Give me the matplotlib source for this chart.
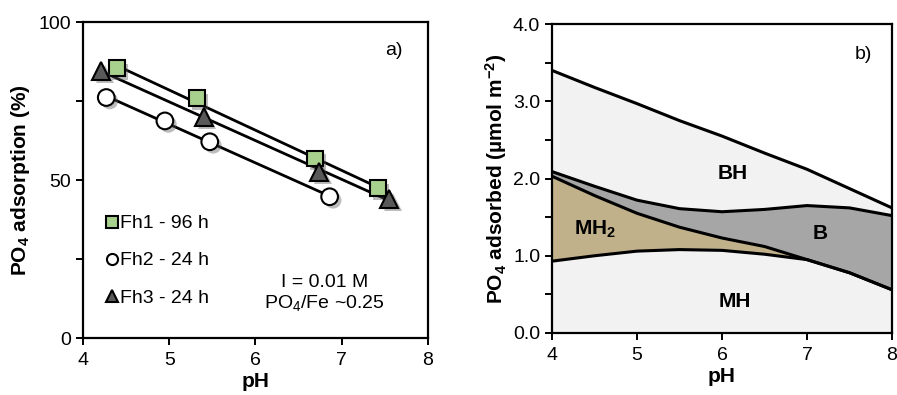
import numpy as np
import matplotlib.pyplot as plt
import matplotlib.patheffects as pe
from matplotlib.lines import Line2D
from matplotlib.ticker import MultipleLocator

plt.rcParams['font.family'] = ['Liberation Sans', 'DejaVu Sans']
plt.rcParams['mathtext.fontset'] = 'custom'
plt.rcParams['mathtext.rm'] = 'Liberation Sans'
plt.rcParams['mathtext.bf'] = 'Liberation Sans:bold'
plt.rcParams['mathtext.default'] = 'rm'

# a) PO4 adsorption edges
fh1_ph = [4.39, 5.32, 6.69, 7.42]
fh1_ads = [85.3, 75.8, 56.8, 47.4]
fh2_ph = [4.27, 4.95, 5.47, 6.86]
fh2_ads = [76.1, 68.7, 62.1, 44.7]
fh3_ph = [4.21, 5.40, 6.74, 7.55]
fh3_ads = [84.5, 70.0, 52.6, 44.0]

# b) surface speciation boundaries
ph_grid = [4.0, 4.5, 5.0, 5.5, 6.0, 6.5, 7.0, 7.5, 8.0]
total_top = [3.40, 3.18, 2.97, 2.75, 2.55, 2.33, 2.12, 1.87, 1.62]
b_upper = [2.09, 1.90, 1.72, 1.61, 1.57, 1.60, 1.65, 1.62, 1.52]
mh2_upper = [2.03, 1.78, 1.55, 1.37, 1.23, 1.12, 0.95, 0.78, 0.56]
mh_upper = [0.93, 1.00, 1.06, 1.08, 1.07, 1.02, 0.95, 0.78, 0.56]

fig = plt.figure(figsize=(8.97, 3.95), dpi=100)
ax1 = fig.add_axes([0.0925, 0.1443, 0.3846, 0.80])
ax2 = fig.add_axes([0.6154, 0.157, 0.379, 0.782])

shadow = [pe.SimplePatchShadow(offset=(2.5, -2.5), shadow_rgbFace='0.35', alpha=0.4), pe.Normal()]

series = [
    (fh1_ph, fh1_ads, 's', '#a9d18e', 11.5, 'Fh1 - 96 h'),
    (fh2_ph, fh2_ads, 'o', 'white', 12, 'Fh2 - 24 h'),
    (fh3_ph, fh3_ads, '^', '#595959', 13, 'Fh3 - 24 h'),
]
handles = []
for ph, ads, mk, fc, ms, lab in series:
    ph = np.array(ph)
    k, b = np.polyfit(ph, ads, 1)
    xs = np.array([ph.min(), ph.max()])
    ax1.plot(xs, k * xs + b, color='black', lw=2, zorder=2)
for ph, ads, mk, fc, ms, lab in series:
    ax1.plot(ph, ads, ls='none', marker=mk, ms=ms, mfc=fc, mec='black', mew=1.5,
             zorder=3, path_effects=shadow)
    handles.append(Line2D([], [], ls='none', marker=mk, ms=8, mfc=fc, mec='black',
                          mew=1.5, label=lab))

ax1.legend(handles=handles, loc='lower left', bbox_to_anchor=(0.017, 0.075), frameon=False,
           fontsize=14, handletextpad=-0.4, labelspacing=1.0, handlelength=1.6,
           borderaxespad=0)

ax1.set_xlim(4, 8)
ax1.set_ylim(0, 100)
ax1.xaxis.set_major_locator(MultipleLocator(1))
ax1.yaxis.set_major_locator(MultipleLocator(50))
ax1.yaxis.set_minor_locator(MultipleLocator(25))
ax1.set_xlabel('pH', fontsize=15, fontweight='bold', labelpad=2)
ax1.set_ylabel(r'PO$_\mathbf{4}$ adsorption (%)', fontsize=15, fontweight='bold', labelpad=5)
ax1.text(0.90, 0.91, 'a)', transform=ax1.transAxes, fontsize=14, ha='center', va='center')
ax1.text(0.70, 0.14, 'I = 0.01 M\nPO$_4$/Fe ~0.25', transform=ax1.transAxes, fontsize=14,
         ha='center', va='center', linespacing=1.15)

# speciation areas
light = '#f2f2f2'
ax2.fill_between(ph_grid, 0, mh_upper, color=light, lw=0)
ax2.fill_between(ph_grid, mh_upper, mh2_upper, color='#c0b18b', lw=0)
ax2.fill_between(ph_grid, mh2_upper, b_upper, color='#a6a6a6', lw=0)
ax2.fill_between(ph_grid, b_upper, total_top, color=light, lw=0)
for curve in (total_top, b_upper, mh2_upper, mh_upper):
    ax2.plot(ph_grid, curve, color='black', lw=2.2, solid_capstyle='butt')

ax2.text(6.12, 2.07, 'BH', fontsize=15, fontweight='bold', ha='center', va='center')
ax2.text(4.51, 1.34, r'MH$_\mathbf{2}$', fontsize=15, fontweight='bold', ha='center', va='center')
ax2.text(7.15, 1.29, 'B', fontsize=15, fontweight='bold', ha='center', va='center')
ax2.text(6.15, 0.41, 'MH', fontsize=15, fontweight='bold', ha='center', va='center')
ax2.text(0.915, 0.90, 'b)', transform=ax2.transAxes, fontsize=14, ha='center', va='center')

ax2.set_xlim(4, 8)
ax2.set_ylim(0, 4)
ax2.xaxis.set_major_locator(MultipleLocator(1))
ax2.yaxis.set_major_locator(MultipleLocator(1))
ax2.yaxis.set_minor_locator(MultipleLocator(0.5))
ax2.yaxis.set_major_formatter(lambda v, p: f'{v:.1f}')
ax2.set_xlabel('pH', fontsize=15, fontweight='bold', labelpad=2)
ax2.set_ylabel(r'PO$_\mathbf{4}$ adsorbed (µmol m$^{\mathbf{-2}}$)', fontsize=15,
               fontweight='bold', labelpad=3)

for ax in (ax1, ax2):
    for s in ax.spines.values():
        s.set_linewidth(1.6)
    ax.tick_params(which='both', direction='out', width=1.4, labelsize=14)
    ax.tick_params(which='major', length=5)
    ax.tick_params(which='minor', length=5)
    ax.tick_params(axis='x', pad=5)

fig.savefig('out.png', dpi=100)
